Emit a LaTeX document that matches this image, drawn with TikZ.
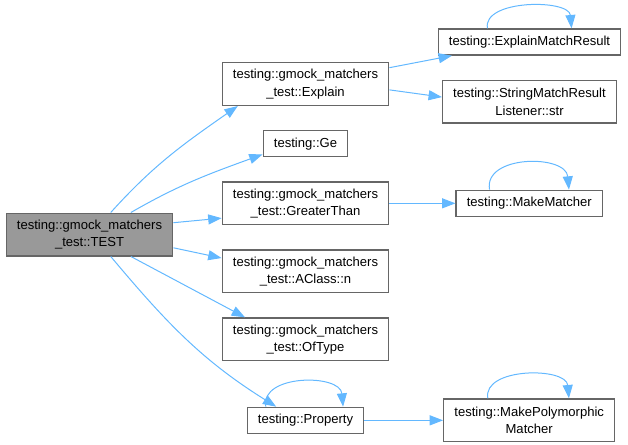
\documentclass[tikz,border=0pt]{standalone}
\usepackage{fontspec}
\setmainfont{Liberation Sans}
\usetikzlibrary{positioning, arrows.meta}
\definecolor{edgeblue}{HTML}{63B8FF}
\definecolor{boxgray}{HTML}{666666}
\definecolor{rootgray}{HTML}{999999}

\begin{document}
\begin{tikzpicture}[
    x=0.75pt, y=0.75pt,
    box/.style={draw=boxgray, line width=1pt, fill=white, align=center, inner xsep=8pt, inner ysep=2pt, minimum height=19.5pt},
    tall/.style={minimum height=32pt},
    root/.style={box, fill=rootgray},
    call/.style={-{Triangle[length=10pt, width=7.5pt]}, draw=edgeblue, line width=0.75pt},
    font=\fontsize{9.8pt}{13pt}\selectfont
  ]
    \useasboundingbox (0,0) rectangle (628,444);
    \node[root, tall] (test) at (89.5,209.5) {testing::gmock\_matchers\\\_test::TEST};
    \node[box, tall] (explain) at (305.5,360) {testing::gmock\_matchers\\\_test::Explain};
    \node[box, below=18pt of explain] (ge) {testing::Ge};
    \node[box, tall, below=18pt of ge] (greater) {testing::gmock\_matchers\\\_test::GreaterThan};
    \node[box, tall, below=18pt of greater] (aclass) {testing::gmock\_matchers\\\_test::AClass::n};
    \node[box, tall, below=18pt of aclass] (oftype) {testing::gmock\_matchers\\\_test::OfType};
    \node[box, below=34pt of oftype] (property) {testing::Property};
    \node[box] (explainres) at (529.5,402) {testing::ExplainMatchResult};
    \node[box, tall, below=18pt of explainres] (strres) {testing::StringMatchResult\\Listener::str};
    \node[box, right=49.5pt of greater] (makematcher) {testing::MakeMatcher};
    \node[box, tall, right=59pt of property] (makepoly) {testing::MakePolymorphic\\Matcher};
    % calls from the test
    \draw[call] (test.46) to[out=48, in=215] (explain.198);
    \draw[call] (test.28) to[out=30, in=200] (ge.194);
    \draw[call] (test.8) -- (greater.190);
    \draw[call] (test.351) -- (aclass.171);
    \draw[call] (test.332) -- (oftype.160);
    \draw[call] (test.314) to[out=-50, in=148] (property.155);
    % second level
    \draw[call] (explain.11) -- (explainres.190);
    \draw[call] (explain.356) -- (strres.177);
    \draw[call] (greater) -- (makematcher);
    \draw[call] (property) -- (makepoly);
    % recursive calls
    \draw[call] (explainres.162) to[out=100, in=95, looseness=0.9] (explainres.18);
    \draw[call] (makematcher.161) to[out=100, in=95, looseness=1.15] (makematcher.19);
    \draw[call] (property.161) to[out=100, in=95, looseness=1.1] (property.20);
    \draw[call] (makepoly.152) to[out=100, in=95, looseness=1] (makepoly.29);
  \end{tikzpicture}
\end{document}
